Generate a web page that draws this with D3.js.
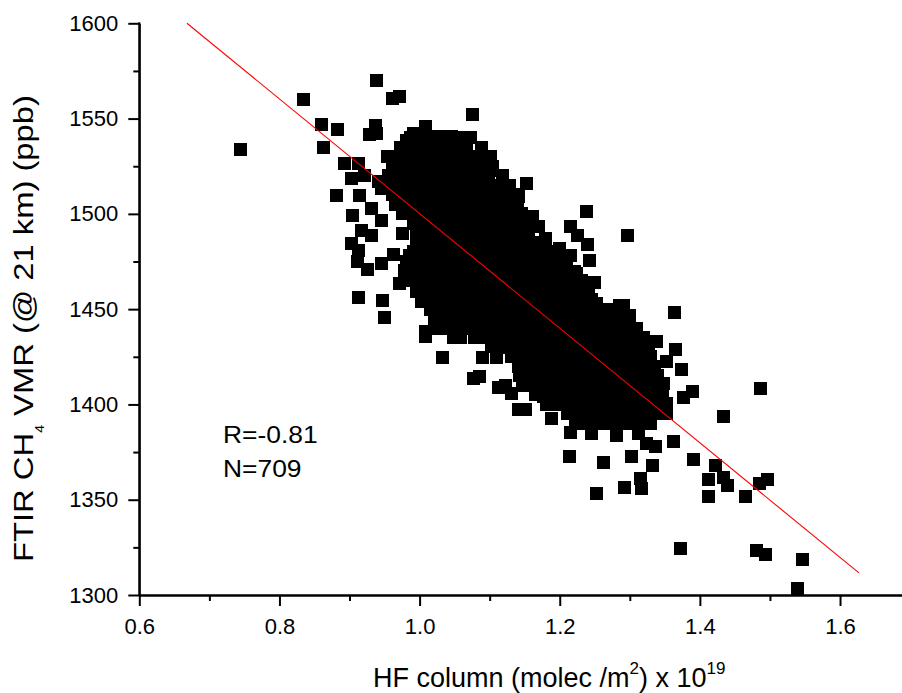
<!DOCTYPE html>
<html><head><meta charset="utf-8">
<script src="https://cdn.jsdelivr.net/npm/d3@7"></script>
<style>
body{margin:0;background:#fff}
svg{display:block}
text{font-family:"Liberation Sans",Arial,Helvetica,sans-serif;fill:#000}
</style>
</head><body>
<svg id="chart" width="902" height="693"></svg>
<script>
// ---- data ----
const xTickValues = [0.6, 0.8, 1.0, 1.2, 1.4, 1.6];
const xMinorValues = [0.7, 0.9, 1.1, 1.3, 1.5, 1.7];
const yTickValues = [1300, 1350, 1400, 1450, 1500, 1550, 1600];
const yMinorValues = [1325, 1375, 1425, 1475, 1525, 1575];
const statsLabels = ["R=-0.81", "N=709"];
const fitLine = [[0.668, 1600], [1.627, 1311.6]];

// individually readable markers: [HF column (1e19 molec/m2), CH4 VMR (ppb)]
const sparsePoints = [
  [0.939,1570],[0.834,1560],[0.962,1560.5],[0.971,1561.7],[0.860,1547],[0.883,1544.4],[0.937,1546.5],
  [0.929,1541.8],[0.939,1542.2],[0.744,1533.9],[0.863,1534.8],[1.008,1545.6],[0.991,1542.2],[0.982,1538.6],
  [1.027,1540.4],[0.973,1534.8],[0.954,1530.3],[0.998,1528.5],[1.024,1533.4],[0.893,1526.4],[0.913,1526.4],
  [0.903,1518.6],[0.922,1520.3],[0.941,1516.8],[0.882,1509.8],[0.914,1509.8],[0.946,1513.3],[0.967,1508.1],
  [0.932,1502.8],[0.904,1499],[0.946,1496.7],[0.917,1491.5],[0.932,1488.8],[0.976,1489.7],[0.903,1484.5],
  [0.913,1481],[0.963,1478.7],[0.912,1474.8],[0.926,1470.8],[0.946,1474],[0.986,1478.3],[0.979,1470.5],
  [0.972,1463.5],[0.996,1459.1],[1.003,1453.9],[0.913,1456.2],[0.947,1454.7],[0.950,1445.7],[1.008,1438.1],
  [1.022,1446],
  [1.076,1552.1],[1.060,1537.8],[1.046,1540.4],[1.093,1529.9],[1.103,1522.9],[1.153,1515.9],[1.141,1509.3],
  [1.115,1508.1],[1.238,1501.4],[1.161,1498.4],[1.169,1493.2],[1.179,1487.1],[1.216,1493.6],[1.226,1488.5],
  [1.239,1484.1],[1.297,1488.8],[1.200,1481.9],[1.215,1478.3],[1.242,1475.7],[1.224,1468.7],[1.249,1464],
  [1.205,1463.5],[1.236,1456.5],[1.253,1453],[1.291,1452.1],[1.300,1446.9],[1.279,1440.7],
  [1.364,1448.3],[1.338,1432.9],[1.365,1428.9],[1.353,1422.4],[1.374,1418.4],[1.348,1411.1],[1.389,1406.7],
  [1.376,1403.5],[1.353,1400.6],[1.353,1395.3],[1.433,1393.6],[1.363,1380.4],[1.391,1371.2],[1.423,1368.2],
  [1.151,1397.1],[1.188,1392.7],[1.216,1385.4],[1.214,1372.6],[1.262,1369.6],[1.303,1372.6],[1.332,1368.2],
  [1.281,1383.6],[1.324,1379.6],[1.336,1377.8],[1.177,1404.1],[1.189,1400.6],[1.238,1391.8],[1.257,1391.8],
  [1.286,1452.1],
  [1.486,1408.1],[1.315,1361.2],[1.317,1356],[1.292,1356.5],[1.413,1360.7],[1.433,1361.8],[1.439,1357.4],
  [1.412,1351.9],[1.465,1351.9],[1.485,1358.6],[1.496,1360.4],[1.372,1324.5],[1.481,1323.1],[1.493,1321.4],
  [1.546,1318.4],[1.539,1303.6],[1.252,1353],
  [1.008,1435.5],[1.058,1435],[1.103,1430.3],[1.134,1433.8],[1.032,1424.5],[1.090,1424.5],[1.110,1424.5],
  [1.077,1413.7],[1.086,1414.5],[1.112,1408.8],[1.123,1409.8],[1.131,1405.5],[1.141,1397.6]
];

// saturated core of the cloud, estimated row by row: [CH4 VMR, [HF column values]]
const coreRows = [
  [1540,[0.987,1.004,1.021,1.039,1.056,1.073]],
  [1535,[0.977,0.995,1.013,1.031,1.049,1.067,1.088]],
  [1530,[0.966,0.984,1.002,1.020,1.038,1.056,1.074,1.091,1.101]],
  [1525,[0.961,0.978,0.996,1.014,1.031,1.049,1.067,1.085,1.104]],
  [1520,[0.956,0.973,0.991,1.009,1.027,1.045,1.062,1.080,1.098,1.118]],
  [1515,[0.957,0.975,0.993,1.011,1.029,1.046,1.064,1.082,1.100,1.117,1.129]],
  [1510,[0.962,0.980,0.998,1.016,1.034,1.052,1.070,1.088,1.106,1.122,1.135]],
  [1505,[0.966,0.983,1.001,1.019,1.037,1.055,1.073,1.091,1.109,1.126,1.140]],
  [1500,[0.976,0.994,1.012,1.030,1.048,1.066,1.084,1.102,1.120,1.137,1.146]],
  [1495,[0.991,1.009,1.027,1.045,1.063,1.081,1.099,1.117,1.134,1.151]],
  [1490,[0.996,1.014,1.032,1.050,1.068,1.086,1.104,1.122,1.140,1.156]],
  [1485,[0.995,1.013,1.031,1.049,1.067,1.085,1.103,1.121,1.139,1.157,1.174]],
  [1480,[0.991,1.009,1.027,1.045,1.063,1.081,1.099,1.117,1.135,1.153,1.171,1.189]],
  [1475,[0.982,1.000,1.018,1.036,1.054,1.072,1.090,1.108,1.126,1.144,1.162,1.180,1.197,1.209]],
  [1470,[0.981,0.999,1.017,1.035,1.053,1.071,1.089,1.107,1.125,1.143,1.161,1.179,1.197,1.214,1.221]],
  [1465,[0.987,1.005,1.023,1.041,1.059,1.077,1.095,1.113,1.131,1.149,1.167,1.185,1.203,1.221,1.231]],
  [1460,[1.001,1.019,1.037,1.055,1.073,1.091,1.109,1.127,1.145,1.163,1.181,1.199,1.217,1.235,1.241]],
  [1455,[1.011,1.029,1.047,1.065,1.083,1.101,1.119,1.137,1.155,1.173,1.191,1.209,1.227,1.245]],
  [1450,[1.016,1.034,1.052,1.070,1.088,1.106,1.124,1.142,1.160,1.178,1.196,1.214,1.232,1.250,1.268]],
  [1445,[1.021,1.039,1.057,1.075,1.093,1.111,1.129,1.147,1.165,1.183,1.201,1.219,1.237,1.255,1.273,1.291,1.299]],
  [1440,[1.024,1.042,1.060,1.078,1.096,1.114,1.132,1.150,1.168,1.186,1.204,1.222,1.240,1.258,1.276,1.294,1.309]],
  [1435,[1.048,1.079,1.097,1.115,1.133,1.151,1.169,1.187,1.205,1.223,1.241,1.259,1.277,1.295,1.313,1.320]],
  [1430,[1.121,1.139,1.157,1.175,1.193,1.211,1.229,1.247,1.265,1.283,1.301,1.319,1.326]],
  [1425,[1.131,1.149,1.167,1.185,1.203,1.221,1.239,1.257,1.275,1.293,1.311,1.329]],
  [1420,[1.141,1.159,1.177,1.195,1.213,1.231,1.249,1.267,1.285,1.303,1.321,1.335]],
  [1415,[1.142,1.160,1.178,1.196,1.214,1.232,1.250,1.268,1.286,1.304,1.322,1.340]],
  [1410,[1.147,1.165,1.183,1.201,1.219,1.237,1.255,1.273,1.291,1.309,1.327,1.345]],
  [1405,[1.166,1.184,1.202,1.220,1.238,1.256,1.274,1.292,1.310,1.328,1.346]],
  [1400,[1.181,1.199,1.217,1.235,1.253,1.271,1.289,1.307,1.325,1.343]],
  [1395,[1.211,1.229,1.247,1.265,1.283,1.301,1.319,1.337]],
  [1390,[1.222,1.240,1.258,1.276,1.294,1.312,1.330]],
  [1385,[1.245,1.281,1.312]]
];

// ---- drawing ----
const corePoints = coreRows.flatMap(([v, xs]) => xs.map(h => [h, v]));
const allPoints = corePoints.concat(sparsePoints);

const svg = d3.select("#chart");
const x = d3.scaleLinear().domain([0.6, 1.7]).range([139.3, 910.1]);
const y = d3.scaleLinear().domain([1300, 1600]).range([595, 23.3]);
const M = 13; // marker size

// markers
svg.append("g").attr("shape-rendering", "crispEdges")
  .selectAll("rect").data(allPoints).join("rect")
  .attr("x", d => x(d[0]) - M / 2)
  .attr("y", d => y(d[1]) - M / 2)
  .attr("width", M).attr("height", M)
  .attr("fill", "#000");

// regression line
svg.append("path")
  .datum(fitLine)
  .attr("d", d3.line().x(d => x(d[0])).y(d => y(d[1])))
  .attr("fill", "none").attr("stroke", "#ff0000").attr("stroke-width", 1.1);

// axes
function styleAxis(g) {
  g.selectAll("path.domain").attr("stroke", "#000").attr("stroke-width", 2);
  g.selectAll(".tick line").attr("stroke", "#000").attr("stroke-width", 2);
  g.selectAll(".tick text").style("font-size", "22px").attr("fill", "#000")
    .style("font-family", '"Liberation Sans", Arial, sans-serif');
}
const gxMinor = svg.append("g").attr("transform", "translate(0,595)")
  .call(d3.axisBottom(x).tickValues(xMinorValues).tickSize(6).tickSizeOuter(0).tickFormat(""));
styleAxis(gxMinor);
const gx = svg.append("g").attr("transform", "translate(0,595)")
  .call(d3.axisBottom(x).tickValues(xTickValues).tickSize(11).tickSizeOuter(0).tickPadding(12)
    .tickFormat(d3.format(".1f")));
styleAxis(gx);

const gyMinor = svg.append("g").attr("transform", "translate(139.3,0)")
  .call(d3.axisLeft(y).tickValues(yMinorValues).tickSize(6).tickSizeOuter(0).tickFormat(""));
styleAxis(gyMinor);
const gy = svg.append("g").attr("transform", "translate(139.3,0)")
  .call(d3.axisLeft(y).tickValues(yTickValues).tickSize(11).tickSizeOuter(0).tickPadding(10)
    .tickFormat(d3.format("d")));
styleAxis(gy);
gy.select("path.domain").attr("d", "M0,22.3V596");

// stats text
svg.append("g").selectAll("text").data(statsLabels).join("text")
  .attr("transform", (d, i) => `translate(223,${443 + i * 34}) scale(1.1,1)`)
  .style("font-size", "24px")
  .text(d => d);

// x title
const xt = svg.append("text").attr("x", 373).attr("y", 686.5).style("font-size", "27px");
xt.append("tspan").text("HF column (molec /m");
xt.append("tspan").attr("dy", -13).style("font-size", "17px").text("2");
xt.append("tspan").attr("dy", 13).text(") x 10");
xt.append("tspan").attr("dy", -13).style("font-size", "17px").text("19");

// y title
const yt = svg.append("text")
  .attr("transform", "translate(33.3,562) rotate(-90) scale(1.17,1)")
  .style("font-size", "28px");
yt.append("tspan").text("FTIR CH");
yt.append("tspan").attr("dy", 11).style("font-size", "12px").text("4");
yt.append("tspan").attr("dy", -11).text(" VMR (@ 21 km) (ppb)");
</script>
</body></html>
